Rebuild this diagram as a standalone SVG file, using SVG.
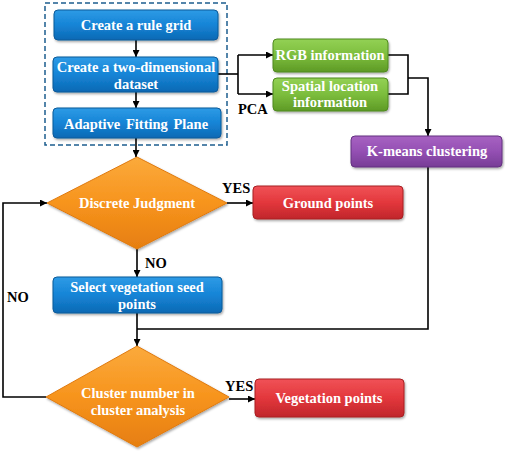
<svg xmlns="http://www.w3.org/2000/svg" width="505" height="451" viewBox="0 0 505 451">
<defs>
<linearGradient id="gBlue" x1="0" y1="0" x2="0" y2="1"><stop offset="0" stop-color="#2e9be6"/><stop offset="0.5" stop-color="#1584d6"/><stop offset="1" stop-color="#0d69b4"/></linearGradient>
<linearGradient id="gGreen" x1="0" y1="0" x2="0" y2="1"><stop offset="0" stop-color="#93d155"/><stop offset="0.5" stop-color="#7cbd3c"/><stop offset="1" stop-color="#5e9a26"/></linearGradient>
<linearGradient id="gPurple" x1="0" y1="0" x2="0" y2="1"><stop offset="0" stop-color="#a762c2"/><stop offset="0.5" stop-color="#9450b3"/><stop offset="1" stop-color="#773c96"/></linearGradient>
<linearGradient id="gRed" x1="0" y1="0" x2="0" y2="1"><stop offset="0" stop-color="#f05257"/><stop offset="0.5" stop-color="#e3373c"/><stop offset="1" stop-color="#c0262b"/></linearGradient>
<linearGradient id="gOrange" x1="0" y1="0" x2="0" y2="1"><stop offset="0" stop-color="#fbaa3c"/><stop offset="0.5" stop-color="#f7941d"/><stop offset="1" stop-color="#e67e10"/></linearGradient>
<filter id="sh" x="-10%" y="-10%" width="120%" height="130%"><feDropShadow dx="1" dy="1.5" stdDeviation="1" flood-color="#000" flood-opacity="0.35"/></filter>
<marker id="arr" viewBox="0 0 10 10" refX="10" refY="5" markerWidth="7" markerHeight="7" markerUnits="userSpaceOnUse" orient="auto"><path d="M0,0 L10,5 L0,10 z" fill="#000"/></marker>
</defs>
<style>
.box{stroke-width:1;filter:url(#sh)}
.blue{fill:url(#gBlue);stroke:#0b5a99}
.green{fill:url(#gGreen);stroke:#4f8a1e}
.purple{fill:url(#gPurple);stroke:#633180}
.red{fill:url(#gRed);stroke:#a81e22}
.dia{fill:url(#gOrange);stroke:#e07a10;filter:url(#sh)}
.t{font-family:"Liberation Serif","Times New Roman",serif;font-weight:bold;font-size:14.5px;fill:#fff;text-anchor:middle}
.lbl{font-family:"Liberation Serif","Times New Roman",serif;font-weight:bold;font-size:14.5px;fill:#000}
.c{fill:none;stroke:#000;stroke-width:1.6}
.dash{fill:none;stroke:#1c5d8f;stroke-width:1.5;stroke-dasharray:5,3}
</style>
<rect class="dash" x="45" y="3" width="182" height="142"/>
<g id="connectors">
<path class="c" d="M136,40 V57" marker-end="url(#arr)"/>
<path class="c" d="M136,92 V108" marker-end="url(#arr)"/>
<path class="c" d="M136,138 V157" marker-end="url(#arr)"/>
<path class="c" d="M218,74 H238"/>
<path class="c" d="M238,55 V94"/>
<path class="c" d="M238,55 H273" marker-end="url(#arr)"/>
<path class="c" d="M238,94 H273" marker-end="url(#arr)"/>
<path class="c" d="M388,55 H408 V94 H388"/>
<path class="c" d="M408,78 H428 V136" marker-end="url(#arr)"/>
<path class="c" d="M428,167 V329 H137"/>
<path class="c" d="M137,313 V346" marker-end="url(#arr)"/>
<path class="c" d="M137,249 V277" marker-end="url(#arr)"/>
<path class="c" d="M227,203 H253" marker-end="url(#arr)"/>
<path class="c" d="M229,399 H255" marker-end="url(#arr)"/>
<path class="c" d="M46,397 H3 V203 H47" marker-end="url(#arr)"/>
<text class="lbl" x="238" y="114">PCA</text>
<text class="lbl" x="222" y="193">YES</text>
<text class="lbl" x="145" y="268">NO</text>
<text class="lbl" x="7" y="302">NO</text>
<text class="lbl" x="225" y="391">YES</text>
</g>
<g id="n1"><rect class="box blue" x="54" y="10" width="164" height="30" rx="4"/><text class="t" x="136" y="30">Create a rule grid</text></g>
<g id="n2"><rect class="box blue" x="53" y="57" width="165" height="35" rx="4"/><text class="t" x="136" y="72">Create a two-dimensional</text><text class="t" x="136" y="89">dataset</text></g>
<g id="n3"><rect class="box blue" x="53" y="108" width="168" height="30" rx="4"/><text class="t" x="136" y="129" word-spacing="2">Adaptive Fitting Plane</text></g>
<g id="n4"><rect class="box green" x="273" y="39" width="115" height="33" rx="4"/><text class="t" x="330" y="60">RGB information</text></g>
<g id="n5"><rect class="box green" x="273" y="78" width="115" height="33" rx="4"/><text class="t" x="330" y="91">Spatial location</text><text class="t" x="330" y="107">information</text></g>
<g id="n6"><rect class="box purple" x="351" y="136" width="151" height="31" rx="4"/><text class="t" x="427" y="156">K-means clustering</text></g>
<g id="n7"><path class="dia" d="M137,157 L227,203 L137,249 L47,203 Z"/><text class="t" x="137" y="208">Discrete Judgment</text></g>
<g id="n8"><rect class="box red" x="253" y="186" width="150" height="33" rx="4"/><text class="t" x="328" y="208">Ground points</text></g>
<g id="n9"><rect class="box blue" x="53" y="277" width="169" height="36" rx="4"/><text class="t" x="137" y="292">Select vegetation seed</text><text class="t" x="137" y="309">points</text></g>
<g id="n10"><path class="dia" d="M137,346 L229,397 L137,447 L46,397 Z"/><text class="t" x="138" y="398">Cluster number in</text><text class="t" x="138" y="415">cluster analysis</text></g>
<g id="n11"><rect class="box red" x="255" y="379" width="149" height="38" rx="4"/><text class="t" x="329" y="403">Vegetation points</text></g>
</svg>
